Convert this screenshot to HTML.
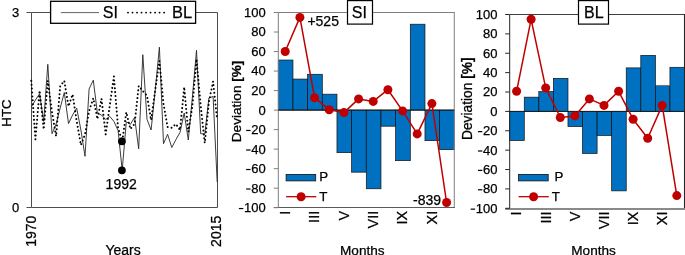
<!DOCTYPE html>
<html><head><meta charset="utf-8"><title>chart</title>
<style>
html,body{margin:0;padding:0;background:#fff;}
svg{display:block;will-change:transform;}
text{font-family:"Liberation Sans", sans-serif;fill:#000;stroke:#000;stroke-width:0.25px;}
</style></head>
<body><svg width="685" height="255" viewBox="0 0 685 255">
<rect width="685" height="255" fill="#fff"/>
<g>
<path d="M31.5 12.5H217.5V207.5H31.5Z" fill="none" stroke="#4d4d4d" stroke-width="1"/>
<path d="M26.5 12.5H31.5M26.5 207.5H31.5" stroke="#4d4d4d" stroke-width="1"/>
<polyline points="31.3,107.0 35.4,100.0 39.6,93.8 43.7,121.4 47.8,64.3 52.0,133.7 56.1,124.0 60.2,108.0 64.3,92.5 68.5,123.6 72.6,115.0 76.7,108.2 80.9,130.0 85.0,156.3 89.1,89.0 93.3,80.2 97.4,113.2 101.5,115.1 105.7,119.5 109.8,116.4 113.9,121.4 118.1,130.5 122.2,170.2 126.3,121.8 130.4,124.3 134.6,117.4 138.7,148.8 142.8,54.7 147.0,119.3 151.1,130.0 155.2,90.6 159.4,47.2 163.5,143.7 167.6,134.3 171.8,147.5 175.9,139.6 180.0,132.4 184.2,113.0 188.3,140.0 192.4,97.0 196.5,50.3 200.7,133.7 204.8,134.0 208.9,98.0 213.1,96.5 217.2,182.0" fill="none" stroke="#262626" stroke-width="0.9" stroke-linejoin="miter"/>
<polyline points="31.3,80.8 35.4,139.3 39.6,90.6 43.7,129.3 47.8,80.8 52.0,112.0 56.1,136.2 60.2,86.0 64.3,80.8 68.5,106.3 72.6,94.4 76.7,121.0 80.9,145.0 85.0,134.3 89.1,111.0 93.3,98.2 97.4,119.0 101.5,98.8 105.7,134.3 109.8,105.0 113.9,76.4 118.1,128.0 122.2,141.3 126.3,112.3 130.4,129.0 134.6,124.0 138.7,85.9 142.8,91.0 147.0,95.6 151.1,120.0 155.2,90.0 159.4,61.0 163.5,104.0 167.6,127.0 171.8,127.8 175.9,124.0 180.0,130.0 184.2,87.1 188.3,131.8 192.4,105.7 196.5,59.0 200.7,105.7 204.8,143.0 208.9,102.0 213.1,81.5 217.2,120.0" fill="none" stroke="#000" stroke-width="2" stroke-dasharray="0.01 3.9" stroke-linecap="round" stroke-linejoin="round"/>
<circle cx="121.9" cy="141.3" r="3.9" fill="#000"/><circle cx="121.9" cy="170.3" r="3.9" fill="#000"/>
<rect x="50.6" y="1.3" width="145" height="22" fill="#fff" stroke="#000" stroke-width="1.3"/>
<path d="M60.8 12.6H99" stroke="#555" stroke-width="0.9"/>
<path d="M128 12.6H165" stroke="#000" stroke-width="1.9" stroke-dasharray="0.01 4.5" stroke-linecap="round"/>
<text x="102.8" y="17.8" font-size="16">SI</text>
<text x="172" y="17.8" font-size="16.4">BL</text>
<text x="12" y="17.2" font-size="13">3</text>
<text x="12" y="211.8" font-size="13">0</text>
<text transform="translate(11.2 113) rotate(-90)" text-anchor="middle" font-size="13.33">HTC</text>
<text transform="translate(35.5 246.8) rotate(-90)" font-size="14">1970</text>
<text transform="translate(221.2 246.9) rotate(-90)" font-size="14">2015</text>
<text x="105.4" y="254.7" font-size="14">Years</text>
<text x="105.6" y="189" font-size="14">1992</text>
</g>
<g>
<rect x="278.30" y="60.03" width="14.67" height="50.07" fill="#0070c0" stroke="#111" stroke-width="0.7"/>
<rect x="292.97" y="79.06" width="14.67" height="31.04" fill="#0070c0" stroke="#111" stroke-width="0.7"/>
<rect x="307.63" y="74.28" width="14.67" height="35.82" fill="#0070c0" stroke="#111" stroke-width="0.7"/>
<rect x="322.30" y="94.19" width="14.67" height="15.91" fill="#0070c0" stroke="#111" stroke-width="0.7"/>
<rect x="336.97" y="110.10" width="14.67" height="42.55" fill="#0070c0" stroke="#111" stroke-width="0.7"/>
<rect x="351.63" y="110.10" width="14.67" height="62.07" fill="#0070c0" stroke="#111" stroke-width="0.7"/>
<rect x="366.30" y="110.10" width="14.67" height="78.67" fill="#0070c0" stroke="#111" stroke-width="0.7"/>
<rect x="380.97" y="110.10" width="14.67" height="16.10" fill="#0070c0" stroke="#111" stroke-width="0.7"/>
<rect x="395.63" y="110.10" width="14.67" height="50.56" fill="#0070c0" stroke="#111" stroke-width="0.7"/>
<rect x="410.30" y="24.21" width="14.67" height="85.89" fill="#0070c0" stroke="#111" stroke-width="0.7"/>
<rect x="424.97" y="110.10" width="14.67" height="30.55" fill="#0070c0" stroke="#111" stroke-width="0.7"/>
<rect x="439.63" y="110.10" width="14.67" height="39.53" fill="#0070c0" stroke="#111" stroke-width="0.7"/>
<path d="M278.3 12.5H454.3" fill="none" stroke="#7f7f7f" stroke-width="1"/>
<path d="M454.3 12.0V208.1" fill="none" stroke="#8a8a8a" stroke-width="1.1"/>
<path d="M273.8 207.50H454.8" stroke="#5a5a5a" stroke-width="1.0"/>
<path d="M278.3 12.5V207.6" stroke="#7f7f7f" stroke-width="1"/>
<path d="M273.8 12.50H278.3M273.8 32.02H278.3M273.8 51.54H278.3M273.8 71.06H278.3M273.8 90.58H278.3M273.8 110.10H278.3M273.8 129.62H278.3M273.8 149.14H278.3M273.8 168.66H278.3M273.8 188.18H278.3M273.8 207.70H278.3" stroke="#7f7f7f" stroke-width="1"/>
<path d="M278.3 110.10H454.3" stroke="#1a1a1a" stroke-width="1"/>
<text x="265.7" y="16.90" text-anchor="end" font-size="13">100</text>
<text x="265.7" y="36.42" text-anchor="end" font-size="13">80</text>
<text x="265.7" y="55.94" text-anchor="end" font-size="13">60</text>
<text x="265.7" y="75.46" text-anchor="end" font-size="13">40</text>
<text x="265.7" y="94.98" text-anchor="end" font-size="13">20</text>
<text x="265.7" y="114.50" text-anchor="end" font-size="13">0</text>
<text x="265.7" y="134.02" text-anchor="end" font-size="13">20</text>
<rect x="246.14" y="129.87" width="4.4" height="1.2" fill="#000"/>
<text x="265.7" y="153.54" text-anchor="end" font-size="13">40</text>
<rect x="246.14" y="149.39" width="4.4" height="1.2" fill="#000"/>
<text x="265.7" y="173.06" text-anchor="end" font-size="13">60</text>
<rect x="246.14" y="168.91" width="4.4" height="1.2" fill="#000"/>
<text x="265.7" y="192.58" text-anchor="end" font-size="13">80</text>
<rect x="246.14" y="188.43" width="4.4" height="1.2" fill="#000"/>
<text x="265.7" y="212.10" text-anchor="end" font-size="13">100</text>
<rect x="238.91" y="207.95" width="4.4" height="1.2" fill="#000"/>
<polyline points="285.2,51.5 299.9,17.4 314.6,97.7 329.2,109.7 343.9,112.6 358.6,98.9 373.2,101.4 387.9,89.7 402.6,110.9 417.2,133.9 431.9,103.6 446.6,202.5" fill="none" stroke="#c00000" stroke-width="1.5" stroke-linejoin="round"/>
<circle cx="285.2" cy="51.5" r="4.5" fill="#c00000"/>
<circle cx="299.9" cy="17.4" r="4.5" fill="#c00000"/>
<circle cx="314.6" cy="97.7" r="4.5" fill="#c00000"/>
<circle cx="329.2" cy="109.7" r="4.5" fill="#c00000"/>
<circle cx="343.9" cy="112.6" r="4.5" fill="#c00000"/>
<circle cx="358.6" cy="98.9" r="4.5" fill="#c00000"/>
<circle cx="373.2" cy="101.4" r="4.5" fill="#c00000"/>
<circle cx="387.9" cy="89.7" r="4.5" fill="#c00000"/>
<circle cx="402.6" cy="110.9" r="4.5" fill="#c00000"/>
<circle cx="417.2" cy="133.9" r="4.5" fill="#c00000"/>
<circle cx="431.9" cy="103.6" r="4.5" fill="#c00000"/>
<circle cx="446.6" cy="202.5" r="4.5" fill="#c00000"/>
<rect x="347.5" y="0.6" width="25.0" height="23.5" fill="#fff" stroke="#000" stroke-width="1.2"/>
<text x="351.8" y="18" font-size="16">SI</text>
<rect x="286.1" y="174.4" width="29.6" height="6.5" fill="#0070c0" stroke="#111" stroke-width="0.8"/>
<text x="319.3" y="181.3" font-size="13.33">P</text>
<path d="M286.1 196.7H316.3" stroke="#c00000" stroke-width="1.3"/>
<circle cx="301.1" cy="196.7" r="4.5" fill="#c00000"/>
<text x="319.3" y="200.8" font-size="13.33">T</text>
<text transform="translate(290.0 210.8) rotate(-90)" text-anchor="end" font-size="14.5">I</text>
<text transform="translate(319.4 210.8) rotate(-90)" text-anchor="end" font-size="14.5">III</text>
<text transform="translate(348.7 210.8) rotate(-90)" text-anchor="end" font-size="14.5">V</text>
<text transform="translate(378.0 210.8) rotate(-90)" text-anchor="end" font-size="14.5">VII</text>
<text transform="translate(407.4 210.8) rotate(-90)" text-anchor="end" font-size="14.5">IX</text>
<text transform="translate(436.7 210.8) rotate(-90)" text-anchor="end" font-size="14.5">XI</text>
<text x="340.0" y="254.5" font-size="13.6">Months</text>
<text transform="translate(241.0 142.2) rotate(-90)" font-size="13.60">Deviation <tspan font-weight="bold">[%]</tspan></text>
<text x="307.4" y="26.0" font-size="14">+525</text>
<text x="413.0" y="204.8" font-size="14">-839</text>
</g>
<g>
<rect x="509.70" y="111.40" width="14.57" height="29.07" fill="#0070c0" stroke="#111" stroke-width="0.7"/>
<rect x="524.27" y="97.16" width="14.57" height="14.24" fill="#0070c0" stroke="#111" stroke-width="0.7"/>
<rect x="538.83" y="91.63" width="14.57" height="19.77" fill="#0070c0" stroke="#111" stroke-width="0.7"/>
<rect x="553.40" y="78.36" width="14.57" height="33.04" fill="#0070c0" stroke="#111" stroke-width="0.7"/>
<rect x="567.97" y="111.40" width="14.57" height="15.12" fill="#0070c0" stroke="#111" stroke-width="0.7"/>
<rect x="582.53" y="111.40" width="14.57" height="42.05" fill="#0070c0" stroke="#111" stroke-width="0.7"/>
<rect x="597.10" y="111.40" width="14.57" height="24.03" fill="#0070c0" stroke="#111" stroke-width="0.7"/>
<rect x="611.67" y="111.40" width="14.57" height="79.46" fill="#0070c0" stroke="#111" stroke-width="0.7"/>
<rect x="626.23" y="67.89" width="14.57" height="43.51" fill="#0070c0" stroke="#111" stroke-width="0.7"/>
<rect x="640.80" y="55.39" width="14.57" height="56.01" fill="#0070c0" stroke="#111" stroke-width="0.7"/>
<rect x="655.37" y="85.43" width="14.57" height="25.97" fill="#0070c0" stroke="#111" stroke-width="0.7"/>
<rect x="669.93" y="67.31" width="14.57" height="44.09" fill="#0070c0" stroke="#111" stroke-width="0.7"/>
<path d="M655.6 85.45H669.9" stroke="#8a7f78" stroke-width="0.9"/>
<path d="M509.7 14.5H684.5" fill="none" stroke="#404040" stroke-width="1"/>
<path d="M684.5 14.0V208.8" fill="none" stroke="#262626" stroke-width="1.1"/>
<path d="M505.2 209.00H685.0" stroke="#8a8a8a" stroke-width="1.9"/>
<path d="M509.7 14.5V208.3" stroke="#262626" stroke-width="1"/>
<path d="M505.2 14.50H509.7M505.2 33.88H509.7M505.2 53.26H509.7M505.2 72.64H509.7M505.2 92.02H509.7M505.2 111.40H509.7M505.2 130.78H509.7M505.2 150.16H509.7M505.2 169.54H509.7M505.2 188.92H509.7M505.2 208.30H509.7" stroke="#262626" stroke-width="1"/>
<path d="M509.7 111.40H684.5" stroke="#1a1a1a" stroke-width="1"/>
<text x="497.5" y="18.90" text-anchor="end" font-size="13">100</text>
<text x="497.5" y="38.28" text-anchor="end" font-size="13">80</text>
<text x="497.5" y="57.66" text-anchor="end" font-size="13">60</text>
<text x="497.5" y="77.04" text-anchor="end" font-size="13">40</text>
<text x="497.5" y="96.42" text-anchor="end" font-size="13">20</text>
<text x="497.5" y="115.80" text-anchor="end" font-size="13">0</text>
<text x="497.5" y="135.18" text-anchor="end" font-size="13">20</text>
<rect x="477.94" y="131.03" width="4.4" height="1.2" fill="#000"/>
<text x="497.5" y="154.56" text-anchor="end" font-size="13">40</text>
<rect x="477.94" y="150.41" width="4.4" height="1.2" fill="#000"/>
<text x="497.5" y="173.94" text-anchor="end" font-size="13">60</text>
<rect x="477.94" y="169.79" width="4.4" height="1.2" fill="#000"/>
<text x="497.5" y="193.32" text-anchor="end" font-size="13">80</text>
<rect x="477.94" y="189.17" width="4.4" height="1.2" fill="#000"/>
<text x="497.5" y="212.70" text-anchor="end" font-size="13">100</text>
<rect x="470.71" y="208.55" width="4.4" height="1.2" fill="#000"/>
<polyline points="516.6,91.3 531.1,19.3 545.7,87.9 560.3,117.5 574.9,115.9 589.4,98.9 604.0,105.4 618.6,91.3 633.1,119.2 647.7,138.2 662.2,105.4 676.8,195.6" fill="none" stroke="#c00000" stroke-width="1.5" stroke-linejoin="round"/>
<circle cx="516.6" cy="91.3" r="4.5" fill="#c00000"/>
<circle cx="531.1" cy="19.3" r="4.5" fill="#c00000"/>
<circle cx="545.7" cy="87.9" r="4.5" fill="#c00000"/>
<circle cx="560.3" cy="117.5" r="4.5" fill="#c00000"/>
<circle cx="574.9" cy="115.9" r="4.5" fill="#c00000"/>
<circle cx="589.4" cy="98.9" r="4.5" fill="#c00000"/>
<circle cx="604.0" cy="105.4" r="4.5" fill="#c00000"/>
<circle cx="618.6" cy="91.3" r="4.5" fill="#c00000"/>
<circle cx="633.1" cy="119.2" r="4.5" fill="#c00000"/>
<circle cx="647.7" cy="138.2" r="4.5" fill="#c00000"/>
<circle cx="662.2" cy="105.4" r="4.5" fill="#c00000"/>
<circle cx="676.8" cy="195.6" r="4.5" fill="#c00000"/>
<rect x="578.5" y="0.6" width="30.0" height="23.5" fill="#fff" stroke="#000" stroke-width="1.2"/>
<text x="584.0" y="18" font-size="16">BL</text>
<rect x="518.6" y="174.4" width="29.6" height="6.5" fill="#0070c0" stroke="#111" stroke-width="0.8"/>
<text x="554.6" y="181.3" font-size="13.33">P</text>
<path d="M518.6 196.7H548.8" stroke="#c00000" stroke-width="1.3"/>
<circle cx="533.6" cy="196.7" r="4.5" fill="#c00000"/>
<text x="551.8" y="200.8" font-size="13.33">T</text>
<text transform="translate(521.4 211.5) rotate(-90)" text-anchor="end" font-size="14.5">I</text>
<text transform="translate(550.5 211.5) rotate(-90)" text-anchor="end" font-size="14.5">III</text>
<text transform="translate(579.6 211.5) rotate(-90)" text-anchor="end" font-size="14.5">V</text>
<text transform="translate(608.8 211.5) rotate(-90)" text-anchor="end" font-size="14.5">VII</text>
<text transform="translate(637.9 211.5) rotate(-90)" text-anchor="end" font-size="14.5">IX</text>
<text transform="translate(667.0 211.5) rotate(-90)" text-anchor="end" font-size="14.5">XI</text>
<text x="571.3" y="254.5" font-size="13.6">Months</text>
<text transform="translate(472.0 140.0) rotate(-90)" font-size="13.75">Deviation <tspan font-weight="bold">[%]</tspan></text>
</g>
</svg></body></html>
